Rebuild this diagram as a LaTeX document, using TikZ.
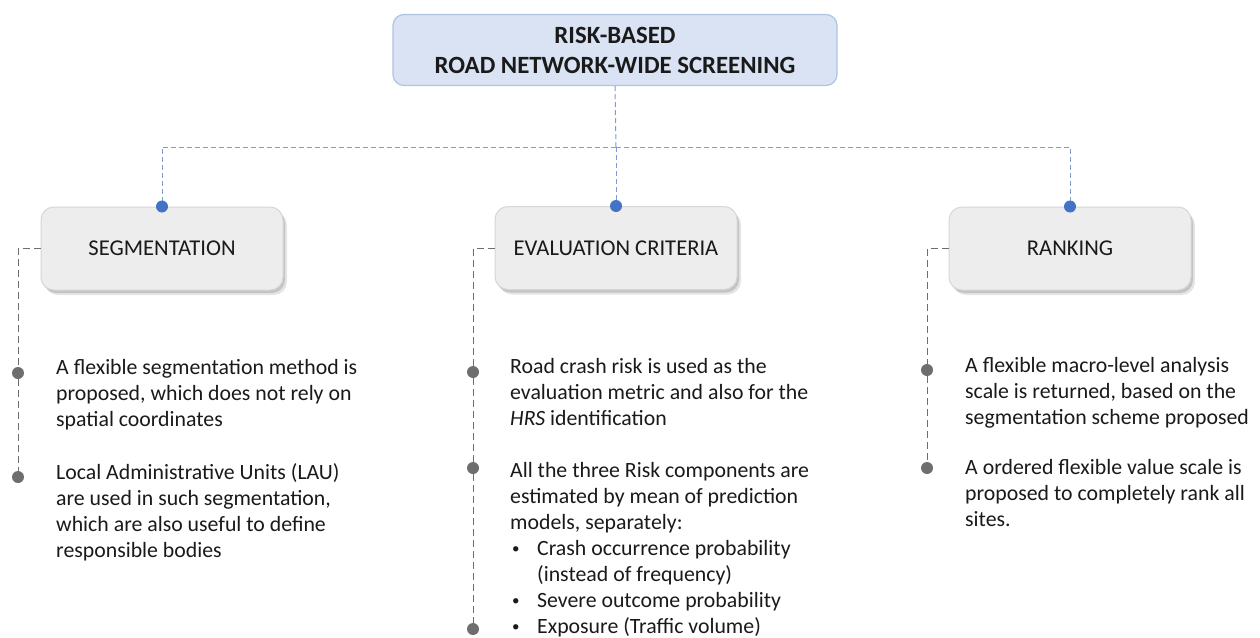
\documentclass[tikz,border=0pt]{standalone}
\usepackage{fontspec}
\setmainfont{Carlito}
\usetikzlibrary{shadows}
\definecolor{titlefill}{HTML}{DAE3F3}
\definecolor{titleline}{HTML}{AFC3E6}
\definecolor{accent}{HTML}{4472C4}
\definecolor{boxfill}{HTML}{EDEDED}
\definecolor{boxline}{HTML}{D6D6D6}
\definecolor{guide}{HTML}{6E6E6E}
\definecolor{ink}{HTML}{1A1A1A}
\newcommand{\notebullet}{\hspace*{2pt}\makebox[25pt][l]{\raisebox{1.5pt}{\fontsize{15}{15}\selectfont •}}}
\tikzset{
  bodyfont/.style={font=\fontsize{21.8}{26}\selectfont},
  titlebox/.style={draw=titleline, line width=1.2pt, fill=titlefill, rounded corners=11pt,
    minimum width=444pt, minimum height=71pt, align=center, text=ink,
    font=\fontsize{24.8}{30}\selectfont\bfseries},
  stagebox/.style={draw=boxline, line width=1pt, fill=boxfill, rounded corners=13pt,
    minimum width=242pt, minimum height=83pt, text=ink,
    font=\fontsize{22.6}{27}\selectfont,
    general shadow={shadow xshift=4pt, shadow yshift=-5pt, fill=black, opacity=.10},
    general shadow={shadow xshift=2pt, shadow yshift=-3pt, fill=black, opacity=.14}},
  blueline/.style={draw=accent!70, line width=1pt, dash pattern=on 5pt off 3pt},
  greyline/.style={draw=guide, line width=1pt, dash pattern=on 7pt off 4pt},
  bluedot/.style={circle, fill=accent, inner sep=0pt, minimum size=12pt},
  greydot/.style={circle, fill=guide, inner sep=0pt, minimum size=12pt},
  % positioned by the baseline of the last line of each note
  itemtext/.style={anchor=base west, align=left, inner sep=0pt, text=ink, bodyfont},
}
\begin{document}
\begin{tikzpicture}[x=1pt, y=-1pt]
\useasboundingbox[fill=white] (0,0) rectangle (1260,637);

% main heading
\node[titlebox] (title) at (615,50) {RISK-BASED\\ROAD NETWORK-WIDE SCREENING};

% the three stages
\node[stagebox] (seg)  at (162,248.5) {SEGMENTATION};
\node[stagebox] (eval) at (616,248)   {EVALUATION CRITERIA};
\node[stagebox] (rank) at (1070,248.5){RANKING};

% tree from the heading to the stages
\coordinate (hub) at (616,147);
\draw[blueline] (title.south) -- (hub);
\draw[blueline] (hub) -| (seg.north);
\draw[blueline] (hub) -- (eval.north);
\draw[blueline] (hub) -| (rank.north);
\node[bluedot] at (seg.north) {};
\node[bluedot] at (eval.north) {};
\node[bluedot] at (rank.north) {};

% bullet markers
\node[greydot] (s1) at (18,373) {};
\node[greydot] (s2) at (18,477) {};
\node[greydot] (e1) at (473,372) {};
\node[greydot] (e2) at (473,468) {};
\node[greydot] (e3) at (473,629) {};
\node[greydot] (r1) at (927,370) {};
\node[greydot] (r2) at (927,468) {};

% guide lines from each stage down through its markers
\draw[greyline] (seg.west) -| (s1);
\draw[greyline] (s1) -- (s2);
\draw[greyline] (eval.west) -| (e1);
\draw[greyline] (e1) -- (e2);
\draw[greyline] (e2) -- (e3);
\draw[greyline] (rank.west) -| (r1);
\draw[greyline] (r1) -- (r2);

% segmentation notes
\node[itemtext] (st1) at (56,426) {A flexible segmentation method is\\proposed, which does not rely on\\spatial coordinates};
\node[itemtext] (st2) at (56,557) {Local Administrative Units (LAU)\\are used in such segmentation,\\which are also useful to define\\responsible bodies};

% evaluation notes
\node[itemtext] (et1) at (510,425) {Road crash risk is used as the\\evaluation metric and also for the\\\textit{HRS} identification};
\node[itemtext] (et2) at (510,633) {All the three Risk components are\\estimated by mean of prediction\\models, separately:\\
\notebullet Crash occurrence probability\\
\hspace*{27pt}(instead of frequency)\\
\notebullet Severe outcome probability\\
\notebullet Exposure (Traffic volume)};

% ranking notes
\node[itemtext] (rt1) at (965,424) {A flexible macro-level analysis\\scale is returned, based on the\\segmentation scheme proposed};
\node[itemtext] (rt2) at (965,526) {A ordered flexible value scale is\\proposed to completely rank all\\sites.};
\end{tikzpicture}
\end{document}
